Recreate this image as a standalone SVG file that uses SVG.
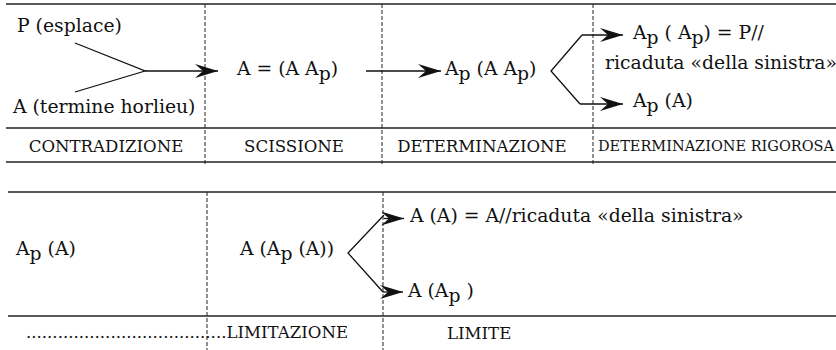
<svg xmlns="http://www.w3.org/2000/svg" width="836" height="350" viewBox="0 0 836 350">
<defs>
<style>
.t{font-family:"DejaVu Serif","Liberation Serif",serif;font-size:18.8px;fill:#111}
.l{font-family:"DejaVu Serif","Liberation Serif",serif;font-size:16.6px;fill:#111}
.s{font-family:"DejaVu Serif","Liberation Serif",serif;font-size:14.5px;fill:#111}
.h{stroke:#222;stroke-width:1.6;fill:none}
.d{stroke:#222;stroke-width:1;stroke-dasharray:4 2;fill:none}
.c{stroke:#111;stroke-width:1.3;fill:none}
</style>
<marker id="ah" markerUnits="userSpaceOnUse" markerWidth="24" markerHeight="14" viewBox="-23 -7 24 14" refX="0" refY="0" orient="auto">
<path d="M0,0 L-23,-7 L-15,0 L-23,7 Z" fill="#111"/>
</marker>
<linearGradient id="fade" x1="0" x2="1" y1="0" y2="0">
<stop offset="0" stop-color="#222"/>
<stop offset="0.45" stop-color="#333"/>
<stop offset="1" stop-color="#fff" stop-opacity="0"/>
</linearGradient>
</defs>
<g id="table-top">
<line class="h" x1="6" y1="4" x2="836" y2="4"/>
<line class="h" x1="6" y1="128" x2="836" y2="128"/>
<line class="h" x1="6" y1="162" x2="836" y2="162"/>
<line class="d" x1="205" y1="4" x2="205" y2="166"/>
<line class="d" x1="382" y1="4" x2="382" y2="166"/>
<line class="d" x1="593" y1="4" x2="593" y2="166"/>
</g>
<g id="table-bottom">
<line class="h" x1="8" y1="192" x2="836" y2="192"/>
<line class="h" x1="8" y1="316" x2="836" y2="316"/>
<line x1="8" y1="348.5" x2="600" y2="348.5" stroke="url(#fade)" stroke-width="1.6"/>
<line class="d" x1="207" y1="192" x2="207" y2="350"/>
<line class="d" x1="383" y1="192" x2="383" y2="350"/>
</g>
<g id="connectors">
<polyline class="c" points="75,43 145,71 75,92"/>
<line class="c" x1="145" y1="71" x2="218" y2="71" marker-end="url(#ah)"/>
<line class="c" x1="366" y1="71" x2="441" y2="71" marker-end="url(#ah)"/>
<polyline class="c" points="582,35 551,71 580,104"/>
<line class="c" x1="582" y1="35" x2="623" y2="35" marker-end="url(#ah)"/>
<line class="c" x1="580" y1="104" x2="623" y2="104" marker-end="url(#ah)"/>
<polyline class="c" points="384,215 348,253 383,292"/>
<line class="c" x1="384" y1="218.5" x2="404" y2="218.5" marker-end="url(#ah)"/>
<line class="c" x1="383" y1="292" x2="403" y2="292" marker-end="url(#ah)"/>
</g>
<g id="n-esplace"><text class="t" x="17" y="32">P (esplace)</text></g>
<g id="n-horlieu"><text class="t" x="13" y="113">A (termine horlieu)</text></g>
<g id="n-scissione"><text class="t" x="237" y="75">A = (A A<tspan dy="5">p</tspan><tspan dy="-5">)</tspan></text></g>
<g id="n-determinazione"><text class="t" x="445" y="75">A<tspan dy="5">p</tspan><tspan dy="-5"> (A A</tspan><tspan dy="5">p</tspan><tspan dy="-5">)</tspan></text></g>
<g id="n-rig1"><text class="t" x="633" y="39">A<tspan dy="5">p</tspan><tspan dy="-5"> ( A</tspan><tspan dy="5">p</tspan><tspan dy="-5">) = P//</tspan></text>
<text class="t" x="605" y="69">ricaduta «della sinistra»</text></g>
<g id="n-rig2"><text class="t" x="633" y="107">A<tspan dy="5">p</tspan><tspan dy="-5"> (A)</tspan></text></g>
<g id="labels-top">
<text class="l" x="106" y="152" text-anchor="middle">CONTRADIZIONE</text>
<text class="l" x="294" y="152" text-anchor="middle">SCISSIONE</text>
<text class="l" x="482" y="152" text-anchor="middle">DETERMINAZIONE</text>
<text class="s" x="716" y="151" text-anchor="middle">DETERMINAZIONE RIGOROSA</text>
</g>
<g id="n-apa"><text class="t" x="16" y="255">A<tspan dy="5">p</tspan><tspan dy="-5"> (A)</tspan></text></g>
<g id="n-limitazione"><text class="t" x="240" y="255">A (A<tspan dy="5">p</tspan><tspan dy="-5"> (A))</tspan></text></g>
<g id="n-limite1"><text class="t" x="410" y="222">A (A) = A//ricaduta «della sinistra»</text></g>
<g id="n-limite2"><text class="t" x="408" y="297">A (A<tspan dy="5">p</tspan><tspan dy="-5"> )</tspan></text></g>
<g id="labels-bottom">
<text class="l" x="26" y="338">......................................LIMITAZIONE</text>
<text class="l" x="447" y="339">LIMITE</text>
</g>
</svg>
